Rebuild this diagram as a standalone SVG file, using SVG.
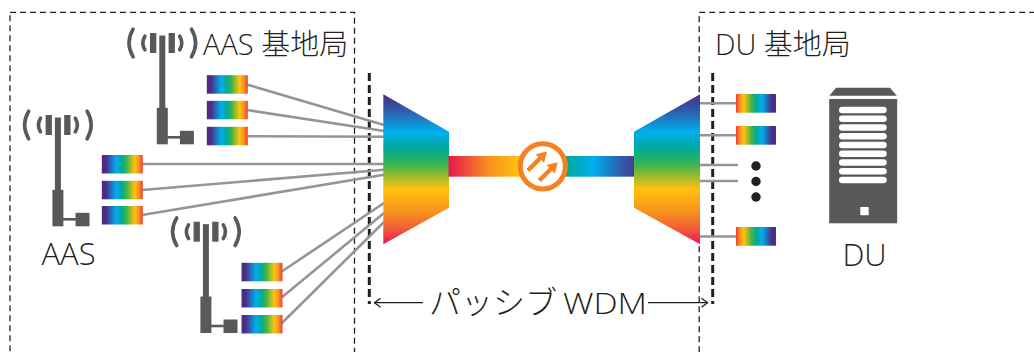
<svg xmlns="http://www.w3.org/2000/svg" xmlns:xlink="http://www.w3.org/1999/xlink" width="1034" height="352" viewBox="0 0 1034 352">
  <style>
    .label { font-family: "Open Sans", "Noto Sans CJK JP", sans-serif; font-weight: 300; fill: #231f20; }
    .box { fill: none; stroke: #231f20; stroke-width: 1.3; stroke-dasharray: 6 4; }
    .wdm-edge { fill: none; stroke: #231f20; stroke-width: 3; stroke-dasharray: 8 4; }
    .fiber { stroke: #939598; stroke-width: 2.6; fill: none; }
    .dim { stroke: #231f20; stroke-width: 1.3; fill: none; }
    .ant { fill: #58595b; }
    .wave { fill: none; stroke: #58595b; stroke-width: 3.6; stroke-linecap: round; }
    .srv { fill: #58595b; }
  </style>
  <defs>
    <!-- vertical spectrum used by the mux / demux -->
    <linearGradient id="specV" x1="0" y1="0" x2="0" y2="1">
      <stop offset="0" stop-color="#4e2c86"/>
      <stop offset="0.12" stop-color="#2b62ae"/>
      <stop offset="0.25" stop-color="#00aeef"/>
      <stop offset="0.36" stop-color="#00a99d"/>
      <stop offset="0.47" stop-color="#39b54a"/>
      <stop offset="0.63" stop-color="#ffc20e"/>
      <stop offset="0.78" stop-color="#f7941d"/>
      <stop offset="0.9" stop-color="#f15a3a"/>
      <stop offset="1" stop-color="#e9164f"/>
    </linearGradient>
    <!-- horizontal spectrum for transceivers (violet to red) -->
    <linearGradient id="specH" x1="0" y1="0" x2="1" y2="0">
      <stop offset="0" stop-color="#4e2c86"/>
      <stop offset="0.1" stop-color="#4e2c86"/>
      <stop offset="0.2" stop-color="#2b62ae"/>
      <stop offset="0.35" stop-color="#00aeef"/>
      <stop offset="0.48" stop-color="#00a99d"/>
      <stop offset="0.6" stop-color="#39b54a"/>
      <stop offset="0.8" stop-color="#ffc20e"/>
      <stop offset="0.9" stop-color="#f7941d"/>
      <stop offset="1" stop-color="#ef3e36"/>
    </linearGradient>
    <!-- reversed spectrum for the DU side transceivers -->
    <linearGradient id="specHR" x1="1" y1="0" x2="0" y2="0">
      <stop offset="0" stop-color="#4e2c86"/>
      <stop offset="0.1" stop-color="#4e2c86"/>
      <stop offset="0.2" stop-color="#2b62ae"/>
      <stop offset="0.35" stop-color="#00aeef"/>
      <stop offset="0.48" stop-color="#00a99d"/>
      <stop offset="0.6" stop-color="#39b54a"/>
      <stop offset="0.8" stop-color="#ffc20e"/>
      <stop offset="0.9" stop-color="#f7941d"/>
      <stop offset="1" stop-color="#ef3e36"/>
    </linearGradient>
    <!-- trunk fibre between mux and demux -->
    <linearGradient id="trunk" gradientUnits="userSpaceOnUse" x1="449" y1="0" x2="634" y2="0">
      <stop offset="0" stop-color="#e9164f"/>
      <stop offset="0.22" stop-color="#f7941d"/>
      <stop offset="0.38" stop-color="#ffc20e"/>
      <stop offset="0.5" stop-color="#8dc63f"/>
      <stop offset="0.64" stop-color="#00a99d"/>
      <stop offset="0.78" stop-color="#00aeef"/>
      <stop offset="0.92" stop-color="#2b62ae"/>
      <stop offset="1" stop-color="#4b3b94"/>
    </linearGradient>
    <marker id="head" markerUnits="userSpaceOnUse" markerWidth="9" markerHeight="11" viewBox="0 0 9 11" refX="7.5" refY="5.5" orient="auto">
      <path d="M1.5,1 L7.5,5.5 L1.5,10" fill="none" stroke="#231f20" stroke-width="1.3"/>
    </marker>
    <!-- antenna mast with panels, radio waves and radio unit; origin = mast centre / panel top -->
    <g id="antenna">
      <rect class="ant" x="-12.3" y="0" width="6.3" height="20"/>
      <rect class="ant" x="6.3" y="0" width="6.3" height="20"/>
      <rect class="ant" x="-3" y="2.5" width="6" height="73"/>
      <rect class="ant" x="-5.5" y="74.8" width="11" height="36.5"/>
      <rect class="ant" x="5" y="103" width="13" height="2.6"/>
      <rect class="ant" x="17.6" y="97.8" width="14" height="13.5"/>
      <path class="wave" d="M-17.4,3.2 Q-21.6,10 -17.4,16.8"/>
      <path class="wave" d="M-29.2,-3.8 Q-37.4,10 -29.2,23.8"/>
      <path class="wave" d="M17.4,3.2 Q21.6,10 17.4,16.8"/>
      <path class="wave" d="M29.2,-3.8 Q37.4,10 29.2,23.8"/>
    </g>
    <rect id="trxL" width="41" height="18.5" fill="url(#specH)"/>
    <rect id="trxR" width="40" height="18.7" fill="url(#specHR)"/>
  </defs>

  <rect width="1034" height="352" fill="#ffffff"/>

  <!-- site boundaries -->
  <g id="sites">
    <rect class="box" x="10" y="12.3" width="344.5" height="360"/>
    <rect class="box" x="699.2" y="12.3" width="360" height="360"/>
    <line class="wdm-edge" x1="369.3" y1="73" x2="369.3" y2="304"/>
    <line class="wdm-edge" x1="712.7" y1="73" x2="712.7" y2="304"/>
  </g>

  <!-- fibres -->
  <g id="connectors">
    <line class="fiber" x1="247" y1="84.5" x2="384" y2="125"/>
    <line class="fiber" x1="247" y1="110" x2="384" y2="131"/>
    <line class="fiber" x1="247" y1="136.2" x2="384" y2="136.7"/>
    <line class="fiber" x1="142" y1="164" x2="384" y2="164"/>
    <line class="fiber" x1="142" y1="190" x2="384" y2="169.8"/>
    <line class="fiber" x1="142" y1="215" x2="384" y2="174.8"/>
    <line class="fiber" x1="281" y1="272" x2="384" y2="203"/>
    <line class="fiber" x1="281" y1="298" x2="384" y2="213"/>
    <line class="fiber" x1="281" y1="324" x2="384" y2="222"/>
    <line class="fiber" x1="699" y1="103.3" x2="738" y2="103.3"/>
    <line class="fiber" x1="699" y1="135.3" x2="738" y2="135.3"/>
    <line class="fiber" x1="699" y1="165" x2="738" y2="165"/>
    <line class="fiber" x1="699" y1="181" x2="738" y2="181"/>
    <line class="fiber" x1="699" y1="236.5" x2="738" y2="236.5"/>
  </g>

  <!-- AAS sites -->
  <g id="aas-top">
    <use xlink:href="#antenna" x="162.3" y="33"/>
    <use xlink:href="#trxL" x="206.8" y="75.2"/>
    <use xlink:href="#trxL" x="206.8" y="100.8"/>
    <use xlink:href="#trxL" x="206.8" y="126.8"/>
  </g>
  <g id="aas-left">
    <use xlink:href="#antenna" x="57.9" y="115"/>
    <use xlink:href="#trxL" x="101.8" y="155"/>
    <use xlink:href="#trxL" x="101.8" y="180.8"/>
    <use xlink:href="#trxL" x="101.8" y="206"/>
  </g>
  <g id="aas-bottom">
    <use xlink:href="#antenna" x="205.9" y="221.7"/>
    <use xlink:href="#trxL" x="241.5" y="262.8"/>
    <use xlink:href="#trxL" x="241.5" y="289"/>
    <use xlink:href="#trxL" x="241.5" y="315"/>
  </g>

  <!-- passive WDM: mux, trunk with amplifier, demux -->
  <g id="mux">
    <polygon points="383.3,94.3 449,131.7 449,207.7 383.3,244.3" fill="url(#specV)"/>
  </g>
  <g id="trunk-fiber">
    <rect x="448.5" y="156" width="186" height="20.7" fill="url(#trunk)"/>
  </g>
  <g id="amplifier">
    <circle cx="542.8" cy="166.3" r="22.6" fill="#ffffff" stroke="#f58220" stroke-width="5"/>
    <g transform="translate(542.8,166.3) rotate(-45)" fill="#f58220">
      <polygon points="-13.5,-9.8 3.5,-9.8 3.5,-13.6 13.5,-7.6 3.5,-1.6 3.5,-5.4 -13.5,-5.4"/>
      <polygon points="-12.5,5.4 3.5,5.4 3.5,1.6 13.5,7.6 3.5,13.6 3.5,9.8 -12.5,9.8"/>
    </g>
  </g>
  <g id="demux">
    <polygon points="634,131.7 700,94.3 700,244.3 634,207.7" fill="url(#specV)"/>
  </g>

  <!-- DU side transceivers -->
  <g id="du-trx">
    <use xlink:href="#trxR" x="736" y="94"/>
    <use xlink:href="#trxR" x="736" y="126"/>
    <use xlink:href="#trxR" x="736" y="227"/>
    <circle cx="756" cy="166" r="4.7" fill="#231f20"/>
    <circle cx="756" cy="181.5" r="4.7" fill="#231f20"/>
    <circle cx="756" cy="197" r="4.7" fill="#231f20"/>
  </g>

  <!-- DU server -->
  <g id="du">
    <polygon class="srv" points="836,87.7 890,87.7 896.8,95.7 829.3,95.7"/>
    <rect class="srv" x="829.2" y="99" width="68" height="124.3"/>
    <g fill="#ffffff">
      <rect x="839" y="106.7" width="47.7" height="6.6" rx="3.3"/>
      <rect x="839" y="115.45" width="47.7" height="6.6" rx="3.3"/>
      <rect x="839" y="124.2" width="47.7" height="6.6" rx="3.3"/>
      <rect x="839" y="132.95" width="47.7" height="6.6" rx="3.3"/>
      <rect x="839" y="141.7" width="47.7" height="6.6" rx="3.3"/>
      <rect x="839" y="150.45" width="47.7" height="6.6" rx="3.3"/>
      <rect x="839" y="159.2" width="47.7" height="6.6" rx="3.3"/>
      <rect x="839" y="167.95" width="47.7" height="6.6" rx="3.3"/>
      <rect x="839" y="176.7" width="47.7" height="6.6" rx="3.3"/>
      <rect x="860.3" y="207" width="8.4" height="8.2"/>
    </g>
  </g>

  <!-- labels -->
  <g id="labels">
    <text class="label" x="203" y="54.5" font-size="29">AAS 基地局</text>
    <text class="label" x="715" y="54.5" font-size="29">DU 基地局</text>
    <text class="label" x="68.5" y="264.5" font-size="31" text-anchor="middle">AAS</text>
    <text class="label" x="864.5" y="265.5" font-size="31" text-anchor="middle">DU</text>
    <text class="label" x="429" y="313.5" font-size="32">パッシブ<tspan x="563" font-size="30" textLength="84" lengthAdjust="spacingAndGlyphs">WDM</tspan></text>
  </g>

  <!-- WDM span dimension arrows -->
  <g id="span">
    <line class="dim" x1="423" y1="302.7" x2="374.5" y2="302.7" marker-end="url(#head)"/>
    <line class="dim" x1="648" y1="302.7" x2="707.5" y2="302.7" marker-end="url(#head)"/>
  </g>
</svg>
